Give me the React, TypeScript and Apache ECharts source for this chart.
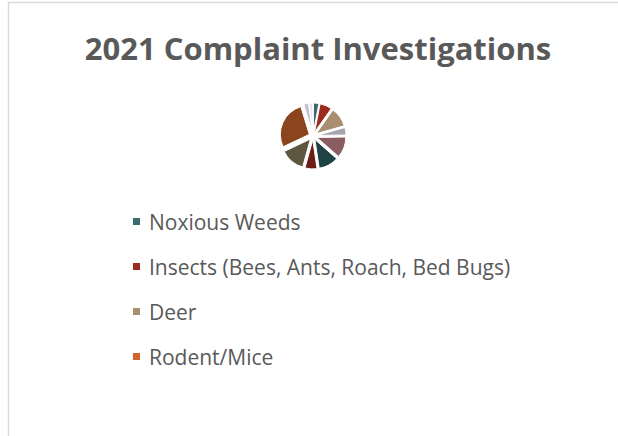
import React, { useEffect, useRef } from "react";
import * as echarts from "echarts";

const titleText = "2021 Complaint Investigations";
const categories = [
  "Noxious Weeds",
  "Insects (Bees, Ants, Roach, Bed Bugs)",
  "Deer",
  "Rodent/Mice",
  "Category 5",
  "Category 6",
  "Category 7",
  "Category 8",
  "Category 9",
  "Category 10",
  "Category 11",
  "Category 12",
];
const values = [11, 24, 39, 0, 15, 42, 40, 24, 49, 98, 10, 7];
const colors = [
  "#3B6A70",
  "#9A2C20",
  "#A78F6F",
  "#D0642D",
  "#A7A2AB",
  "#8A5D61",
  "#1F4345",
  "#6C1D16",
  "#5F5640",
  "#8A451C",
  "#C4C2CC",
  "#E6E6EA",
];
const legendNames = categories.slice(0, 4);

export default function App() {
  const ref = useRef<HTMLDivElement>(null);
  useEffect(() => {
    if (!ref.current) return;
    const chart = echarts.init(ref.current, null, { renderer: "svg" });
    chart.setOption({
      animation: false,
      backgroundColor: "#ffffff",
      title: {
        text: titleText,
        left: 313,
        textAlign: "center",
        top: 27,
        textStyle: {
          fontFamily: "Open Sans",
          fontWeight: "bold",
          fontSize: 31,
          color: "#595959",
        },
      },
      legend: {
        data: legendNames,
        orient: "vertical",
        left: 131,
        top: 211,
        padding: 0,
        icon: "rect",
        itemWidth: 9,
        itemHeight: 9,
        itemGap: 24,
        selectedMode: false,
        textStyle: {
          fontFamily: "Open Sans",
          fontSize: 21,
          color: "#595959",
          padding: [0, 0, 0, 3],
        },
      },
      graphic: [
        {
          type: "rect",
          shape: { x: 8.5, y: 2.5, width: 700, height: 500 },
          style: { fill: "none", stroke: "#D9D9D9", lineWidth: 1.5 },
          silent: true,
        },
      ],
      series: [
        {
          type: "pie",
          center: [313, 136],
          radius: [0, 29],
          startAngle: 90,
          clockwise: true,
          selectedMode: "multiple",
          selectedOffset: 4,
          label: { show: false },
          labelLine: { show: false },
          emphasis: { disabled: true },
          itemStyle: { borderColor: "#ffffff", borderWidth: 1 },
          data: categories.map((name, i) => ({
            name,
            value: values[i],
            selected: true,
            itemStyle: { color: colors[i] },
          })),
        },
      ],
    });
    return () => chart.dispose();
  }, []);
  return (
    <div
      ref={ref}
      style={{ position: "fixed", left: 0, top: 0, width: 618, height: 436 }}
    />
  );
}
